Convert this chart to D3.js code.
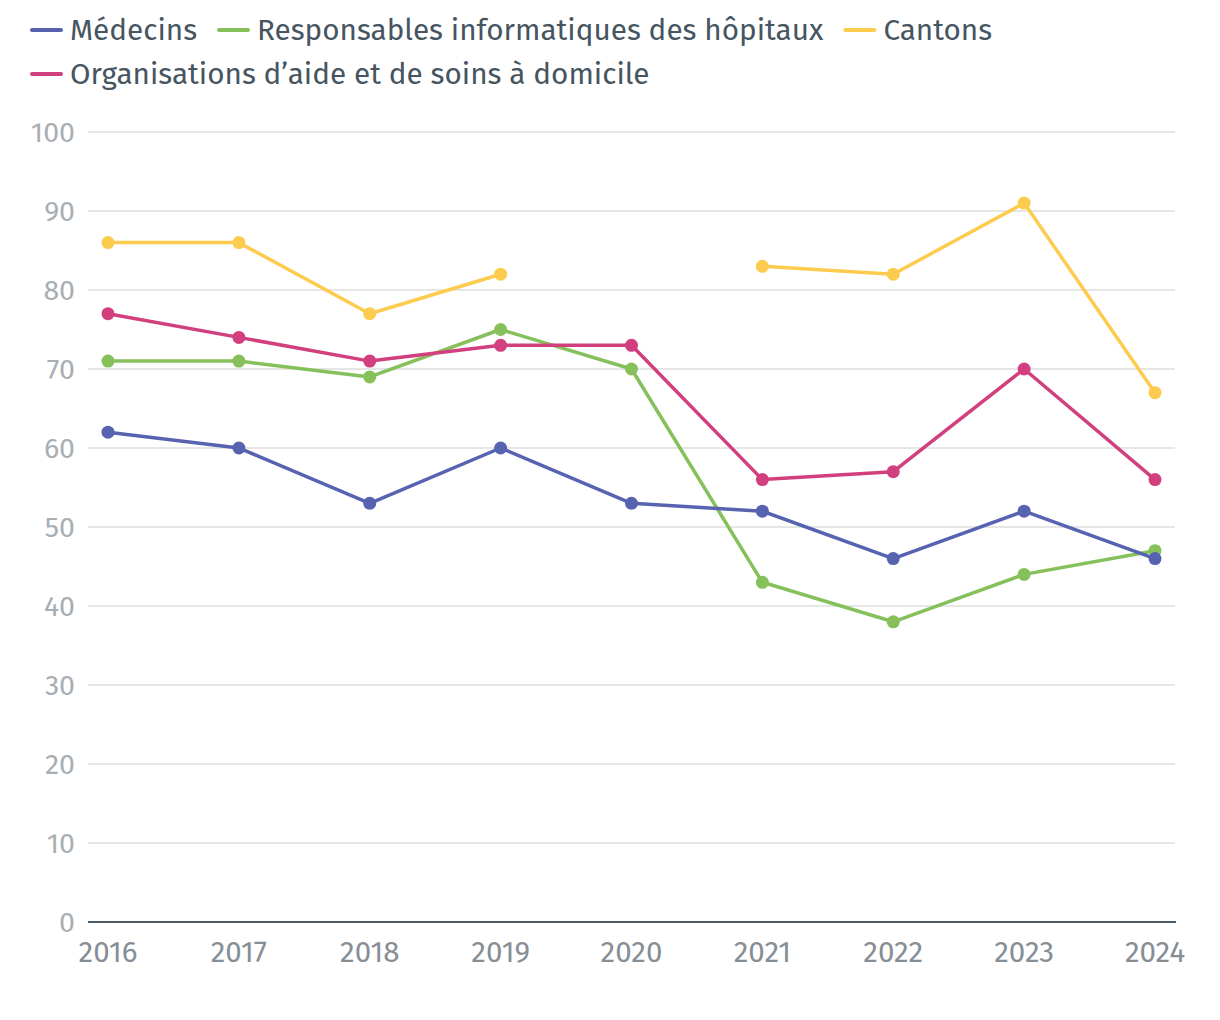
<!DOCTYPE html>
<html><head><meta charset="utf-8">
<script src="https://cdn.jsdelivr.net/npm/d3@7"></script>
<style>body{margin:0;background:#fff;} svg{display:block;font-family:"Fira Sans",Roboto,"Open Sans",sans-serif;}</style>
</head><body><svg id="c" width="1220" height="1020"></svg>
<script>
const years = [2016, 2017, 2018, 2019, 2020, 2021, 2022, 2023, 2024];
const seriesNames = ["Médecins", "Responsables informatiques des hôpitaux", "Cantons", "Organisations d’aide et de soins à domicile"];
const medecins = [62, 60, 53, 60, 53, 52, 46, 52, 46];
const responsables = [71, 71, 69, 75, 70, 43, 38, 44, 47];
const cantons = [86, 86, 77, 82, null, 83, 82, 91, 67];
const organisations = [77, 74, 71, 73, 73, 56, 57, 70, 56];
const colors = ["#5763b1", "#86c05a", "#fdcb4e", "#d13f7e"];
const yTicks = [0, 10, 20, 30, 40, 50, 60, 70, 80, 90, 100];

const data = [medecins, responsables, cantons, organisations];
const svg = d3.select("#c");
const x = d3.scalePoint().domain(years).range([108, 1155]);
const y = d3.scaleLinear().domain([0, 100]).range([922, 132]);

// grid
svg.append("g").selectAll("line").data(yTicks.filter(d => d > 0)).join("line")
  .attr("x1", 88).attr("x2", 1175).attr("y1", d => y(d)).attr("y2", d => y(d))
  .attr("stroke", "#e6e6e6").attr("stroke-width", 2);
// y labels
svg.append("g").selectAll("text").data(yTicks).join("text")
  .attr("x", 75).attr("y", d => y(d)).attr("dy", "0.35em").attr("text-anchor", "end")
  .attr("fill", "#a9aeb3").attr("font-size", 28.5).text(d => d);
// x axis line
svg.append("line").attr("x1", 88).attr("x2", 1176).attr("y1", y(0)).attr("y2", y(0))
  .attr("stroke", "#4a5966").attr("stroke-width", 2);
// x labels
svg.append("g").selectAll("text").data(years).join("text")
  .attr("x", d => x(d)).attr("y", 962).attr("text-anchor", "middle")
  .attr("fill", "#868e96").attr("font-size", 29.5).text(d => d);

const line = d3.line().defined(d => d.v != null).x(d => x(d.year)).y(d => y(d.v));
[1, 2, 3, 0].forEach(i => {
  const pts = years.map((yr, j) => ({year: yr, v: data[i][j]}));
  const g = svg.append("g");
  g.append("path").attr("d", line(pts)).attr("fill", "none")
    .attr("stroke", colors[i]).attr("stroke-width", 3.5).attr("stroke-linejoin", "round");
  g.selectAll("circle").data(pts.filter(d => d.v != null)).join("circle")
    .attr("cx", d => x(d.year)).attr("cy", d => y(d.v)).attr("r", 6.5).attr("fill", colors[i]);
});

// legend
const rows = [[0, 1, 2], [3]];
rows.forEach((row, ri) => {
  let cx = 32;
  const cy = 30 + ri * 44;
  row.forEach(i => {
    svg.append("line").attr("x1", cx).attr("x2", cx + 29).attr("y1", cy).attr("y2", cy)
      .attr("stroke", colors[i]).attr("stroke-width", 4).attr("stroke-linecap", "round");
    const t = svg.append("text").attr("x", cx + 38).attr("y", cy).attr("dy", "0.35em")
      .attr("fill", "#46555f").attr("font-size", 29.7).text(seriesNames[i]);
    cx += 38 + t.node().getComputedTextLength() + 22;
  });
});
</script></body></html>
